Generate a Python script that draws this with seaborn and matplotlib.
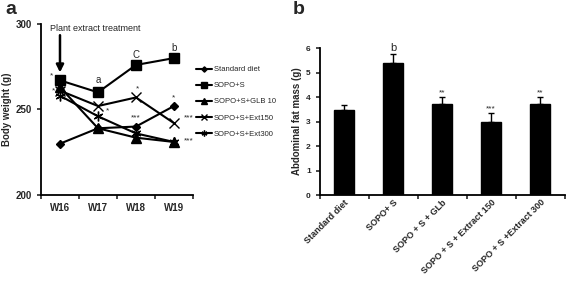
import pandas as pd
import numpy as np
import matplotlib
matplotlib.use("Agg")
import matplotlib.pyplot as plt
import seaborn as sns
from matplotlib.lines import Line2D

sns.set_style("white")
plt.rcParams['font.family'] = ['Liberation Sans', 'DejaVu Sans']

# 체중 데이터 (패널 a)
weeks = ["W16", "W17", "W18", "W19"]
groups = ["Standard diet", "SOPO+S", "SOPO+S+GLB 10", "SOPO+S+Ext150", "SOPO+S+Ext300"]
standard = [230, 239, 240, 252]
sopo_s = [267, 260, 276, 280]
glb10 = [263, 239, 233.5, 231]
ext150 = [261, 252, 257, 242]
ext300 = [258, 246, 236, 231]

# 복부 지방 데이터 (패널 b)
bar_labels = ["Standard diet", "SOPO+ S", "SOPO + S + GLb", "SOPO + S + Extract 150", "SOPO + S +Extract 300"]
fat_mass = [3.47, 5.37, 3.71, 2.99, 3.73]
fat_err = [0.19, 0.37, 0.28, 0.34, 0.26]
bar_marks = ["", "b", "**", "***", "**"]

rows = []
for g, vals in zip(groups, [standard, sopo_s, glb10, ext150, ext300]):
    for w, v in zip(weeks, vals):
        rows.append({"week": w, "weight": v, "group": g})
df = pd.DataFrame(rows)
bars = pd.DataFrame({"group": bar_labels, "fat": fat_mass})

fig = plt.figure(figsize=(5.67, 2.81), dpi=100)
ax1 = fig.add_axes([0.0723, 0.306, 0.268, 0.609])
ax2 = fig.add_axes([0.564, 0.306, 0.432, 0.523])

markers = {"Standard diet": "D", "SOPO+S": "s", "SOPO+S+GLB 10": "^",
           "SOPO+S+Ext150": "x", "SOPO+S+Ext300": (6, 2, 0)}
msize = {"Standard diet": 4.5, "SOPO+S": 6.5, "SOPO+S+GLB 10": 6.5,
         "SOPO+S+Ext150": 7, "SOPO+S+Ext300": 7}
for g in groups:
    sub = df[df.group == g]
    sns.lineplot(data=sub, x="week", y="weight", color="black", marker=markers[g],
                 markersize=msize[g], markeredgecolor="black", markeredgewidth=1.0,
                 linewidth=1.5, ax=ax1, legend=False)

ax1.set_xlim(-0.5, 3.5)
ax1.set_ylim(200, 300)
ax1.set_yticks([200, 250, 300])
ax1.set_xticks(range(4))
ax1.set_xticklabels(weeks)
ax1.set_xticks(np.arange(-0.5, 4, 1), minor=True)
ax1.tick_params(axis="x", which="major", length=0, pad=6)
ax1.tick_params(axis="x", which="minor", length=3, width=1.2, direction="out", bottom=True)
ax1.tick_params(axis="y", length=3, width=1.2, direction="out", left=True)
for lab in ax1.get_xticklabels() + ax1.get_yticklabels():
    lab.set_fontweight("bold")
    lab.set_fontsize(7)
ax1.set_xlabel("")
ax1.set_ylabel("Body weight (g)", fontsize=7, fontweight="bold")
ax1.yaxis.set_label_coords(-0.19, 0.5)
for s in ["top", "right"]:
    ax1.spines[s].set_visible(False)
for s in ["left", "bottom"]:
    ax1.spines[s].set_linewidth(1.3)
    ax1.spines[s].set_color("black")

ax1.text(0.92, 297.5, "Plant extract treatment", fontsize=6.5, ha="center", va="center")
ax1.annotate("", xy=(0, 270), xytext=(0, 295),
             arrowprops=dict(arrowstyle="-|>", color="black", lw=1.8, mutation_scale=11))
ax1.text(1, 264, "a", fontsize=7, ha="center", va="bottom")
ax1.text(2, 279, "C", fontsize=7, ha="center", va="bottom")
ax1.text(3, 283, "b", fontsize=7, ha="center", va="bottom")
ax1.text(-0.22, 269, "*", fontsize=6, ha="center")
ax1.text(-0.17, 260, "*", fontsize=6, ha="center")
ax1.text(1.24, 248, "*", fontsize=6, ha="center")
ax1.text(2.05, 261, "*", fontsize=6, ha="center")
ax1.text(2.0, 244, "***", fontsize=6, ha="center")
ax1.text(3.0, 256, "*", fontsize=6, ha="center")
ax1.text(3.38, 244, "***", fontsize=6, ha="center")
ax1.text(3.38, 231, "***", fontsize=6, ha="center")

handles = [Line2D([0], [0], color="black", lw=1.5, marker=markers[g],
                  markersize=msize[g] * 0.6, markeredgecolor="black") for g in groups]
leg = fig.legend(handles, groups, loc="upper left", bbox_to_anchor=(0.333, 0.79),
                 frameon=False, fontsize=5.5, handlelength=2.2, handletextpad=0.2,
                 labelspacing=1.15)

sns.barplot(data=bars, x="group", y="fat", color="black", width=0.4, ax=ax2,
            edgecolor="black")
ax2.errorbar(range(len(fat_mass)), fat_mass, yerr=[np.zeros(5), fat_err], fmt="none",
             ecolor="black", elinewidth=1.0, capsize=2.5, capthick=1.0)
for i, (m, v, e) in enumerate(zip(bar_marks, fat_mass, fat_err)):
    if m:
        fs = 8 if m == "b" else 6
        ax2.text(i, v + e + 0.05, m, fontsize=fs, ha="center", va="bottom")
ax2.set_xlim(-0.5, 4.5)
ax2.set_ylim(0, 6)
ax2.set_yticks(range(7))
ax2.set_xticks(np.arange(-0.5, 5, 1), minor=True)
ax2.tick_params(axis="x", which="major", length=0, pad=2)
ax2.tick_params(axis="x", which="minor", length=3, width=1.2, direction="out", bottom=True)
ax2.tick_params(axis="y", length=3, width=1.2, direction="out", left=True)
ax2.set_xticklabels(bar_labels, rotation=45, ha="right", rotation_mode="anchor")
for lab in ax2.get_xticklabels():
    lab.set_fontweight("bold")
    lab.set_fontsize(6.5)
for lab in ax2.get_yticklabels():
    lab.set_fontweight("bold")
    lab.set_fontsize(6)
ax2.set_xlabel("")
ax2.set_ylabel("Abdominal fat mass (g)", fontsize=7, fontweight="bold", labelpad=3)
for s in ["top", "right"]:
    ax2.spines[s].set_visible(False)
for s in ["left", "bottom"]:
    ax2.spines[s].set_linewidth(1.3)
    ax2.spines[s].set_color("black")

fig.text(0.01, 0.965, "a", fontsize=14, fontweight="bold", va="center")
fig.text(0.517, 0.965, "b", fontsize=14, fontweight="bold", va="center")

fig.savefig("out.png", dpi=100)
